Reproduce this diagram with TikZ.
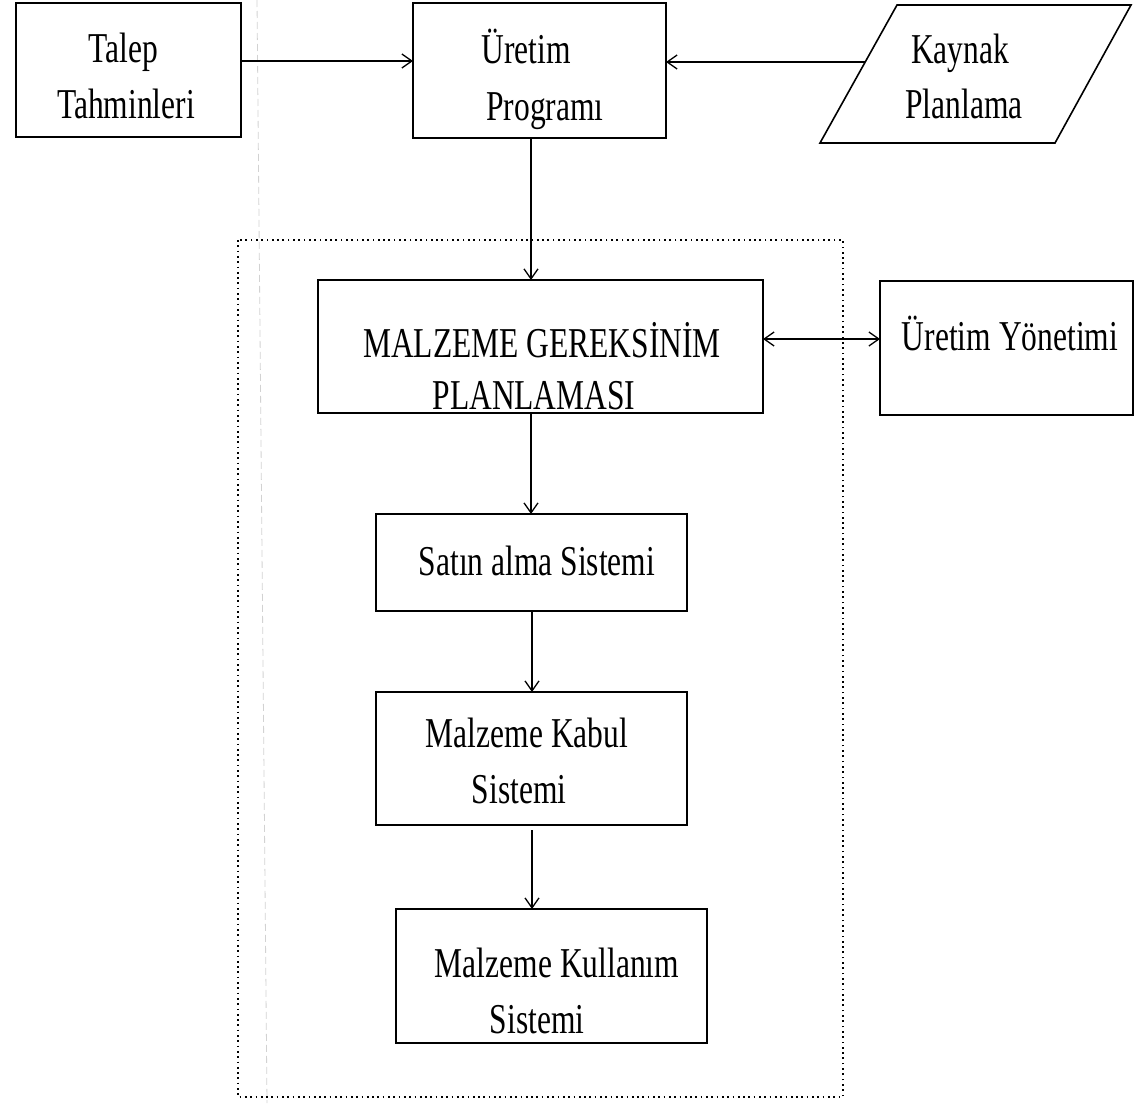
\documentclass[tikz,border=0pt]{standalone}
\usepackage{graphicx}
\usepackage{fontspec}
\setmainfont{Liberation Serif}
\usetikzlibrary{arrows.meta}
\newcommand{\vstr}[1]{\scalebox{1}[1.35]{#1}}
\begin{document}
\begin{tikzpicture}[x=1pt,y=-1pt,
  box/.style={draw,line width=1.6pt,inner sep=0pt,outer sep=0pt},
  txt/.style={anchor=base,inner sep=0pt,font=\fontsize{31.5}{38}\selectfont},
  arr/.style={line width=1.3pt,-{Straight Barb[length=10pt,width=14pt,line width=1.3pt]}},
  darr/.style={line width=1.3pt,{Straight Barb[length=10pt,width=14pt,line width=1.3pt]}-{Straight Barb[length=10pt,width=14pt,line width=1.3pt]}},
  frame/.style={line width=1.7pt,dash pattern=on 1.7pt off 3.6pt}]
\useasboundingbox (0,0) rectangle (1140,1103);
% faint scan margin line
\draw[gray!35,line width=0.8pt,dash pattern=on 7pt off 4pt] (257,0) -- (267,1103);
% dotted frame
\draw[frame] (238,240) rectangle (843,1097);
% boxes
\node[box,minimum width=225pt,minimum height=134pt] (talep) at (128.5,70) {};
\node[box,minimum width=253pt,minimum height=135pt] (uretim) at (539.5,70.5) {};
\node[box,minimum width=445pt,minimum height=133pt] (mgp) at (540.5,346.5) {};
\node[box,minimum width=253pt,minimum height=134pt] (uy) at (1006.5,348) {};
\node[box,minimum width=311pt,minimum height=97pt] (satin) at (531.5,562.5) {};
\node[box,minimum width=311pt,minimum height=133pt] (kabul) at (531.5,758.5) {};
\node[box,minimum width=311pt,minimum height=134pt] (kull) at (551.5,976) {};
% parallelogram
\draw[line width=1.6pt] (897,5) -- (1131,5) -- (1055,143) -- (820,143) -- cycle;
\coordinate (kay) at (865,62);
% texts
\node[txt] (t1) at (123,62) {\vstr{Talep}};
\node[txt] (t2) at (126,118) {\vstr{Tahminleri}};
\node[txt] (t3) at (526,63) {\vstr{Üretim}};
\node[txt] (t4) at (545,120) {\vstr{Programı}};
\node[txt] (t5) at (960,63) {\vstr{Kaynak}};
\node[txt] (t6) at (964,118) {\vstr{Planlama}};
\node[txt] (t7) at (542,357) {\vstr{MALZEME GEREKSİNİM}};
\node[txt] (t8) at (534,409) {\vstr{PLANLAMASI}};
\node[txt] (t9) at (1010,350) {\vstr{Üretim Yönetimi}};
\node[txt] (t10) at (537,575) {\vstr{Satın alma Sistemi}};
\node[txt] (t11) at (527,747) {\vstr{Malzeme Kabul}};
\node[txt] (t12) at (519,803) {\vstr{Sistemi}};
\node[txt] (t13) at (557,977) {\vstr{Malzeme Kullanım}};
\node[txt] (t14) at (537,1033) {\vstr{Sistemi}};
% connectors
\draw[arr] ([yshift=9pt]talep.east) -- ([yshift=9pt]talep.east -| uretim.west);
\draw[arr] (kay) -- (kay -| uretim.east);
\draw[arr] ([xshift=-8.5pt]uretim.south) -- ([xshift=-8.5pt]uretim.south |- mgp.north);
\draw[darr] ([yshift=7.5pt]mgp.east) -- ([yshift=7.5pt]mgp.east -| uy.west);
\draw[arr] ([xshift=-9.5pt]mgp.south) -- ([xshift=-9.5pt]mgp.south |- satin.north);
\draw[arr] ([xshift=0.5pt]satin.south) -- ([xshift=0.5pt]satin.south |- kabul.north);
\draw[arr] ([xshift=0.5pt,yshift=-5pt]kabul.south) -- ([xshift=0.5pt]kabul.south |- kull.north);
\end{tikzpicture}
\end{document}
